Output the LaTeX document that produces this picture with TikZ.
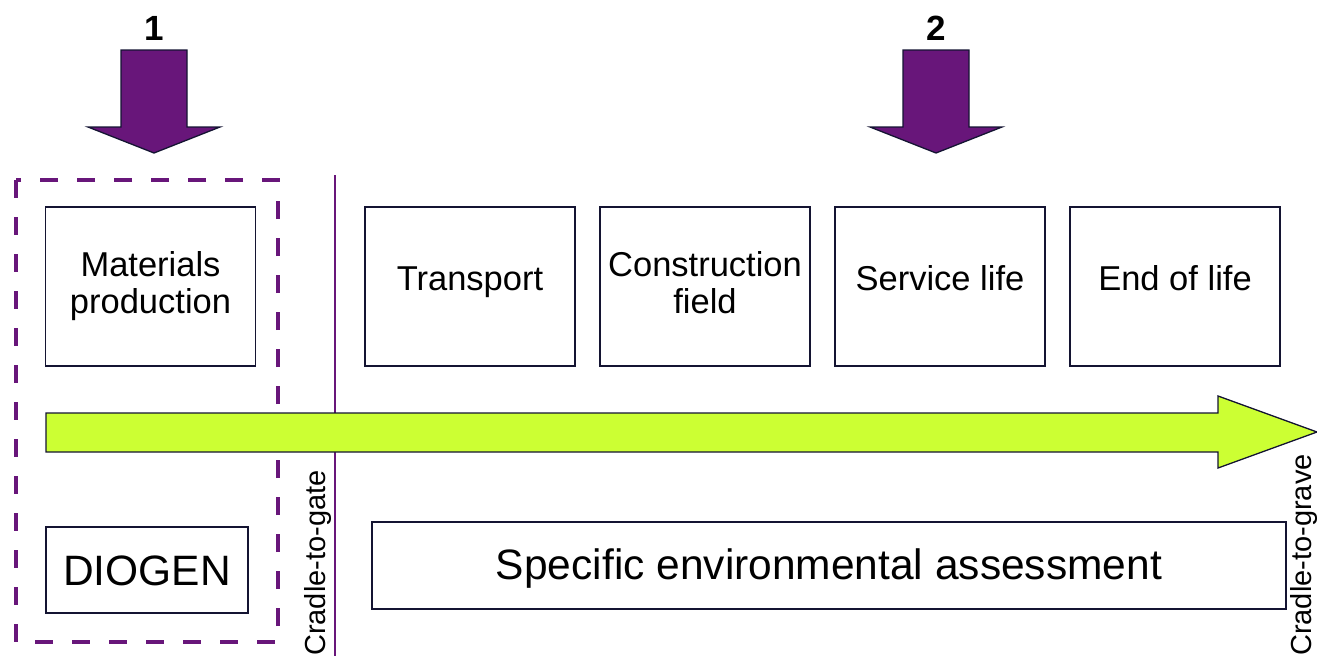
\documentclass[tikz,border=0pt]{standalone}
\usepackage{fontspec}
\setmainfont{Liberation Sans}
\definecolor{vio}{RGB}{104,22,122}
\definecolor{lime}{RGB}{204,255,51}
\definecolor{navy}{RGB}{20,20,50}
\begin{document}
\begin{tikzpicture}[x=1pt,y=-1pt,
  stage/.style={draw=navy,line width=1.3pt,fill=white,minimum width=210pt,minimum height=159pt,inner sep=0pt,align=center,font=\fontsize{34.5}{37}\selectfont},
  oneline/.style={stage,text height=16pt,text depth=8pt},
  twoline/.style={stage,text height=60pt,text depth=7pt},
  bigarrow/.style={draw=navy,line width=1.3pt,fill=vio,line join=miter},
  num/.style={font=\bfseries\fontsize{35}{38}\selectfont,inner sep=0pt},
  plainbox/.style={draw=navy,line width=1.3pt,inner sep=0pt,font=\fontsize{42.5}{46}\selectfont},
  vlabel/.style={rotate=90,anchor=south west,inner sep=0pt,font=\fontsize{29}{32}\selectfont}]
\useasboundingbox (0,0) rectangle (1317,656);
% numbered arrows
\node[num] (n1) at (154,28) {1};
\node[num] (n2) at (936,28) {2};
\draw[bigarrow] (121,50) -- (187,50) -- (187,127) -- (220,127) -- (154,153) -- (88,127) -- (121,127) -- cycle;
\draw[bigarrow] (903,50) -- (969,50) -- (969,127) -- (1002,127) -- (936,153) -- (870,127) -- (903,127) -- cycle;
% dashed frame
\draw[vio,line width=4.5pt,dash pattern=on 18pt off 19pt] (16,180) rectangle (278,642);
% cradle-to-gate line
\draw[vio,line width=2pt] (335,175) -- (335,656);
% stage boxes
\node[twoline] (mat) at (150.5,286.5) {Materials\\production};
\node[oneline] (tra) at (470,286.5) {Transport};
\node[twoline] (con) at (705,286.5) {Construction\\field};
\node[oneline] (ser) at (940,286.5) {Service life};
\node[oneline] (eol) at (1175,286.5) {End of life};
% life-cycle arrow
\draw[draw=navy,line width=1.3pt,fill=lime,line join=miter] (46,413) -- (1218,413) -- (1218,396) -- (1317,432) -- (1218,468) -- (1218,452) -- (46,452) -- cycle;
% bottom boxes
\node[plainbox,minimum width=202pt,minimum height=86pt,text height=30pt,text depth=0pt] (dio) at (147,570) {DIOGEN};
\node[plainbox,minimum width=914pt,minimum height=87pt,text height=30pt,text depth=3pt] (sea) at (829,565.5) {Specific environmental assessment};
% vertical labels
\node[vlabel] (ctg) at (332,656) {Cradle-to-gate};
\node[vlabel] (ctgr) at (1318,656) {Cradle-to-grave};
\end{tikzpicture}
\end{document}
